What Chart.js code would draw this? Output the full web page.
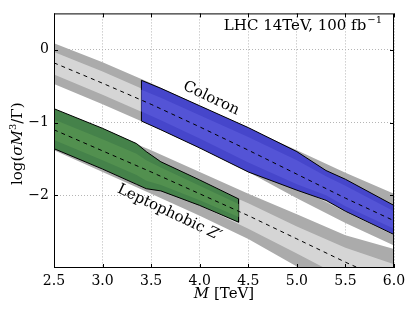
<!DOCTYPE html>
<html>
<head>
<meta charset="utf-8">
<script src="https://cdn.jsdelivr.net/npm/chart.js@4"></script>
<style>
  html, body { margin: 0; padding: 0; background: #fff; }
</style>
</head>
<body>
<canvas id="sigChart" width="411" height="311"></canvas>
<script>
// mass grid for the grey expectation bands (TeV)
const massGrid = [2.5, 3.0, 3.5, 4.0, 4.5, 5.0, 5.5, 6.0];

// coloron expectation: centre line, +-2 sigma (outer) and +-1 sigma (inner)
const coloronCenter  = [-0.18, -0.46, -0.75, -1.06, -1.38, -1.71, -2.04, -2.35];
const coloronOuterHi = [ 0.09, -0.17, -0.46, -0.77, -1.08, -1.38, -1.69, -1.98];
const coloronOuterLo = [-0.47, -0.75, -1.04, -1.35, -1.68, -2.04, -2.38, -2.69];
const coloronInnerHi = [-0.03, -0.30, -0.59, -0.90, -1.21, -1.53, -1.85, -2.15];
const coloronInnerLo = [-0.34, -0.62, -0.91, -1.22, -1.55, -1.89, -2.23, -2.55];

// leptophobic Z' expectation
const zpCenter  = [-1.10, -1.39, -1.68, -1.98, -2.28, -2.60, -2.92, -3.22];
const zpOuterHi = [-0.82, -1.10, -1.38, -1.68, -1.98, -2.26, -2.55, -2.74];
const zpOuterLo = [-1.38, -1.68, -1.98, -2.28, -2.60, -2.98, -3.35, -3.70];
const zpInnerHi = [-0.95, -1.24, -1.52, -1.82, -2.11, -2.43, -2.72, -2.95];
const zpInnerLo = [-1.25, -1.54, -1.84, -2.14, -2.46, -2.80, -3.15, -3.50];

// coloron model region (blue)
const coloronMass    = [3.4, 3.6, 4.0, 4.5, 5.0, 5.3, 5.5, 6.0];
const coloronTop     = [-0.42, -0.53, -0.77, -1.07, -1.40, -1.66, -1.78, -2.14];
const coloronBottom  = [-0.98, -1.10, -1.35, -1.68, -1.93, -2.07, -2.22, -2.54];
const coloronMidTop  = [-0.55, -0.66, -0.90, -1.20, -1.52, -1.74, -1.87, -2.22];
const coloronMidBot  = [-0.85, -0.97, -1.22, -1.55, -1.85, -2.00, -2.15, -2.46];

// leptophobic Z' model region (green)
const zpMass    = [2.5, 3.0, 3.35, 3.45, 3.6, 4.0, 4.4];
const zpTop     = [-0.81, -1.08, -1.29, -1.40, -1.54, -1.79, -2.05];
const zpBottom  = [-1.36, -1.64, -1.85, -1.91, -1.94, -2.14, -2.37];
const zpMidTop  = [-0.96, -1.23, -1.43, -1.52, -1.62, -1.87, -2.12];
const zpMidBot  = [-1.24, -1.52, -1.72, -1.80, -1.86, -2.07, -2.30];

// axis ticks
const xTicks = [2.5, 3.0, 3.5, 4.0, 4.5, 5.0, 5.5, 6.0];
const yTicks = [-2, -1, 0];

const SERIF = '"DejaVu Serif", "Liberation Serif", serif';

// closed polygon: along the upper edge, back along the lower edge
function band(xs, hi, lo) {
  const pts = xs.map((x, i) => ({ x: x, y: hi[i] }));
  for (let i = xs.length - 1; i >= 0; i--) pts.push({ x: xs[i], y: lo[i] });
  pts.push({ x: xs[0], y: hi[0] });
  return pts;
}
function line(xs, ys) {
  return xs.map((x, i) => ({ x: x, y: ys[i] }));
}

function shape(data, fillColor, edge) {
  return {
    data: data,
    fill: 'shape',
    backgroundColor: fillColor,
    borderColor: edge ? '#000' : 'rgba(0,0,0,0)',
    borderWidth: edge ? 1 : 0,
    pointRadius: 0,
    tension: 0
  };
}
function dashed(data) {
  return {
    data: data,
    borderColor: '#000', borderWidth: 1, borderDash: [4, 4],
    pointRadius: 0, fill: false
  };
}

// listed back to front; 'order' makes later entries paint on top
const layers = [
  shape(band(massGrid, coloronOuterHi, coloronOuterLo), '#ababab'),
  shape(band(massGrid, coloronInnerHi, coloronInnerLo), '#d5d5d5'),
  shape(band(massGrid, zpOuterHi, zpOuterLo), '#ababab'),
  shape(band(massGrid, zpInnerHi, zpInnerLo), '#d5d5d5'),
  shape(band(coloronMass, coloronTop, coloronBottom), '#4646cb', true),
  shape(band(coloronMass, coloronMidTop, coloronMidBot), '#5454d6'),
  shape(band(zpMass, zpTop, zpBottom), '#45824a', true),
  shape(band(zpMass, zpMidTop, zpMidBot), '#52904f'),
  dashed(line(massGrid, coloronCenter)),
  dashed(line(massGrid, zpCenter))
];
layers.forEach((d, i) => { d.order = layers.length - i; });

// draw a run of text pieces with different fonts, centred on x
function drawRich(ctx, pieces, x, y) {
  let total = 0;
  pieces.forEach(p => { ctx.font = p.font; p.w = ctx.measureText(p.t).width; total += p.w; });
  let cx = x - total / 2;
  ctx.textAlign = 'left';
  ctx.textBaseline = 'alphabetic';
  pieces.forEach(p => {
    ctx.font = p.font;
    ctx.fillText(p.t, cx, y + (p.dy || 0));
    cx += p.w;
  });
}

const decorPlugin = {
  id: 'decor',
  afterDraw(chart) {
    const ctx = chart.ctx;
    const a = chart.chartArea;
    const xs = chart.scales.x, ys = chart.scales.y;
    ctx.save();

    // frame
    ctx.strokeStyle = '#000';
    ctx.lineWidth = 1;
    ctx.strokeRect(a.left + 0.5, a.top + 0.5, a.right - a.left - 1, a.bottom - a.top - 1);

    // inward ticks on all four sides
    ctx.beginPath();
    xTicks.forEach(v => {
      const px = Math.round(xs.getPixelForValue(v)) + 0.5;
      ctx.moveTo(px, a.bottom); ctx.lineTo(px, a.bottom - 4);
      ctx.moveTo(px, a.top); ctx.lineTo(px, a.top + 4);
    });
    yTicks.forEach(v => {
      const py = Math.round(ys.getPixelForValue(v)) + 0.5;
      ctx.moveTo(a.left, py); ctx.lineTo(a.left + 4, py);
      ctx.moveTo(a.right, py); ctx.lineTo(a.right - 4, py);
    });
    ctx.stroke();

    ctx.fillStyle = '#000';

    // luminosity note, right aligned in the top corner
    ctx.font = '15px ' + SERIF;
    const main = 'LHC 14TeV, 100 fb';
    const wMain = ctx.measureText(main).width;
    ctx.font = '10px ' + SERIF;
    const wSup = ctx.measureText('\u22121').width;
    const x0 = 381 - wMain - wSup;
    ctx.textAlign = 'left';
    ctx.textBaseline = 'alphabetic';
    ctx.font = '15px ' + SERIF;
    ctx.fillText(main, x0, 29.5);
    ctx.font = '10px ' + SERIF;
    ctx.fillText('\u22121', x0 + wMain + 1, 23);

    // x axis title
    drawRich(ctx, [
      { t: 'M', font: 'italic 15px ' + SERIF },
      { t: ' [TeV]', font: '15px ' + SERIF }
    ], (a.left + a.right) / 2, 298);

    // y axis title
    ctx.save();
    ctx.translate(22, (a.top + a.bottom) / 2 + 3);
    ctx.rotate(-Math.PI / 2);
    drawRich(ctx, [
      { t: 'log(', font: '15px ' + SERIF },
      { t: '\u03c3', font: 'italic 15px ' + SERIF },
      { t: 'M', font: 'italic 15px ' + SERIF },
      { t: '3', font: '10px ' + SERIF, dy: -6 },
      { t: '/\u0393)', font: '15px ' + SERIF }
    ], 0, 0);
    ctx.restore();

    // model labels along the bands
    const slope = Math.atan2(0.63 * (ys.getPixelForValue(-1) - ys.getPixelForValue(0)),
                             xs.getPixelForValue(3.5) - xs.getPixelForValue(2.5));
    ctx.save();
    ctx.translate(xs.getPixelForValue(4.1), ys.getPixelForValue(-0.69) + 2);
    ctx.rotate(slope);
    drawRich(ctx, [{ t: 'Coloron', font: '15px ' + SERIF }], 0, 0);
    ctx.restore();

    ctx.save();
    ctx.translate(xs.getPixelForValue(3.67), ys.getPixelForValue(-2.22) + 5);
    ctx.rotate(slope);
    drawRich(ctx, [
      { t: 'Leptophobic ', font: '15px ' + SERIF },
      { t: 'Z\u2032', font: 'italic 15px ' + SERIF }
    ], 0, 0);
    ctx.restore();

    ctx.restore();
  }
};

const gridStyle = {
  color: '#b5b5b5',
  lineWidth: 1,
  drawTicks: false
};

new Chart(document.getElementById('sigChart'), {
  type: 'line',
  data: { datasets: layers },
  options: {
    responsive: false,
    animation: false,
    layout: { padding: { top: 5, right: 17, bottom: 0, left: 0 } },
    plugins: {
      legend: { display: false },
      tooltip: { enabled: false }
    },
    scales: {
      x: {
        type: 'linear',
        min: 2.5,
        max: 6.0,
        z: 1,
        afterBuildTicks: axis => { axis.ticks = xTicks.map(v => ({ value: v })); },
        afterFit: axis => { axis.height = 43; },
        grid: gridStyle,
        border: { display: false, dash: [1, 2] },
        ticks: {
          padding: 5,
          color: '#000',
          font: { family: SERIF, size: 14 },
          callback: v => v.toFixed(1)
        }
      },
      y: {
        type: 'linear',
        min: -3,
        max: 0.5,
        z: 1,
        afterBuildTicks: axis => { axis.ticks = yTicks.map(v => ({ value: v })); },
        afterFit: axis => { axis.width = 54; },
        grid: gridStyle,
        border: { display: false, dash: [1, 2] },
        ticks: {
          padding: 5,
          color: '#000',
          font: { family: SERIF, size: 14 },
          callback: v => (v < 0 ? '\u2212' + Math.abs(v) : String(v))
        }
      }
    }
  },
  plugins: [decorPlugin]
});
</script>
</body>
</html>
